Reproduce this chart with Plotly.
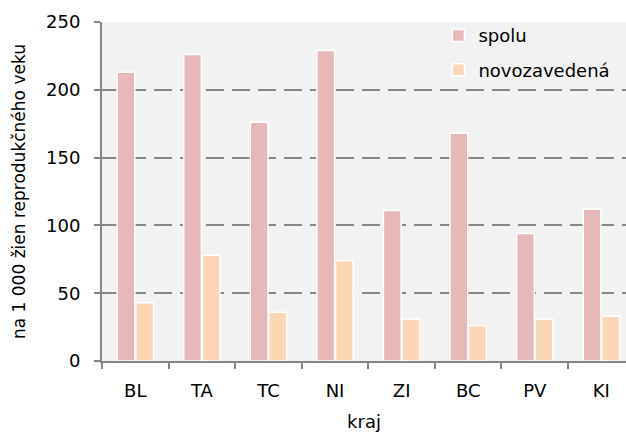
import plotly.graph_objects as go

kraje = ['BL', 'TA', 'TC', 'NI', 'ZI', 'BC', 'PV', 'KI']
spolu = [213, 226, 176, 229, 111, 168, 94, 112]
novozavedena = [43, 78, 36, 74, 31, 26, 31, 33]

font_name = 'DejaVu Sans, Verdana, sans-serif'

fig = go.Figure()
fig.add_trace(go.Bar(
    x=kraje, y=spolu, name='spolu', legendgroup='a',
    marker=dict(color='#E6B9B8', line=dict(color='white', width=1.5))
))
fig.add_trace(go.Bar(
    x=kraje, y=novozavedena, name='novozavedená', legendgroup='b',
    marker=dict(color='#FCD5B5', line=dict(color='white', width=1.5))
))

fig.update_layout(
    width=626, height=432,
    margin=dict(l=102, r=0, t=22, b=71),
    paper_bgcolor='white',
    plot_bgcolor='#F2F2F2',
    font=dict(family=font_name, size=18, color='black'),
    barmode='group',
    bargap=0.44,
    bargroupgap=0.05,
    legend=dict(
        x=0.642, y=1.014, xanchor='left', yanchor='top',
        bgcolor='rgba(0,0,0,0)',
        font=dict(size=18),
        traceorder='grouped',
        tracegroupgap=8,
    ),
    xaxis=dict(
        title=dict(text='kraj', font=dict(size=18), standoff=16),
        range=[-0.5, 7.37],
        showline=True, linecolor='#868686', linewidth=2,
        ticks='outside', tickson='boundaries', ticklen=6,
        tickcolor='#868686', tickwidth=2,
        ticklabelstandoff=12,
        showgrid=False,
    ),
    yaxis=dict(
        title=dict(text='na 1 000 žien reprodukčného veku', font=dict(size=17), standoff=16),
        range=[0, 250],
        dtick=50,
        showline=True, linecolor='#868686', linewidth=2,
        ticks='outside', ticklen=6, tickcolor='#868686', tickwidth=2,
        ticklabelstandoff=10,
        showgrid=True, gridcolor='#868686', gridwidth=2, griddash='18px,8px',
        zeroline=False,
    ),
)

fig.write_html(
    'out.html',
    config={'displayModeBar': False},
    post_script="document.body.style.margin='0';document.body.style.overflow='hidden';"
)
